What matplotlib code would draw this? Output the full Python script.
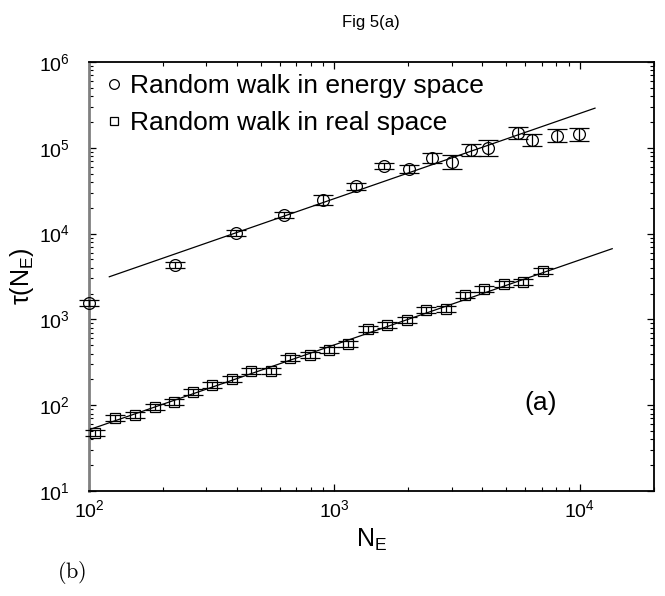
import numpy as np
import matplotlib
matplotlib.use("Agg")
import matplotlib.pyplot as plt
from matplotlib.lines import Line2D
from matplotlib.ticker import LogLocator, NullFormatter

plt.rcParams['font.family'] = ['Liberation Sans', 'DejaVu Sans']
plt.rcParams['mathtext.fontset'] = 'custom'
plt.rcParams['mathtext.rm'] = 'Liberation Sans'
plt.rcParams['mathtext.it'] = 'Liberation Sans:italic'
plt.rcParams['mathtext.bf'] = 'Liberation Sans:bold'

# ---- data: random walk in energy space (circles) ----
energy_N = [100, 224, 399, 625, 895, 1224, 1596, 2010, 2494, 3018, 3589, 4220, 5610, 6380, 8110, 9910]
energy_tau = [1535, 4275, 10190, 16630, 24660, 35500, 61800, 56500, 75900, 68200, 94800, 99100, 150600, 124000, 139000, 143000]
energy_err_dec = [0.035, 0.035, 0.035, 0.035, 0.055, 0.045, 0.035, 0.045, 0.055, 0.08, 0.07, 0.09, 0.07, 0.07, 0.08, 0.08]

# ---- data: random walk in real space (squares) ----
real_N = [106, 128, 154, 185, 221, 265, 317, 381, 456, 550, 659, 793, 950, 1139, 1368, 1641, 1973, 2364, 2838, 3400, 4077, 4890, 5860, 7050]
real_tau = [46.9, 70, 76.5, 95.5, 110, 141.6, 171, 204, 248, 250, 355, 381, 436, 521, 766, 866, 993, 1283, 1306, 1918, 2275, 2600, 2715, 3650]
real_err_dec = [0.035] * len(real_N)

# ---- power-law fit lines ----
energy_fit_range = [121, 11530]
energy_fit_a, energy_fit_N0, energy_fit_exp = 3140, 121, 0.993
real_fit_range = [100, 13550]
real_fit_a, real_fit_N0, real_fit_exp = 51.7, 100, 0.99

legend_labels = ['Random walk in energy space', 'Random walk in real space']


def asym_err(vals, dec):
    v = np.asarray(vals, float)
    d = np.asarray(dec, float)
    return np.vstack([v - v * 10 ** (-d), v * 10 ** d - v])


fig = plt.figure(figsize=(6.65, 5.96), dpi=100)
ax = fig.add_axes([89 / 665, 1 - 491 / 596, (653.7 - 89) / 665, (491 - 62) / 596])
ax.set_xscale('log')
ax.set_yscale('log')

for N, T, E, mk, ms in [(energy_N, energy_tau, energy_err_dec, 'o', 8.5),
                        (real_N, real_tau, real_err_dec, 's', 7)]:
    cont = ax.errorbar(N, T, yerr=asym_err(T, E),
                       fmt=mk, mfc='none', mec='black', ms=ms, mew=0.9, ecolor='black',
                       elinewidth=0.9, capsize=7, capthick=1.0, zorder=3)
    for art in cont.get_children():
        art.set_clip_on(False)

xe = np.logspace(np.log10(energy_fit_range[0]), np.log10(energy_fit_range[1]), 50)
ax.plot(xe, energy_fit_a * (xe / energy_fit_N0) ** energy_fit_exp, color='black', lw=0.9, zorder=2)
xr = np.logspace(np.log10(real_fit_range[0]), np.log10(real_fit_range[1]), 50)
ax.plot(xr, real_fit_a * (xr / real_fit_N0) ** real_fit_exp, color='black', lw=0.9, zorder=2)

ax.set_xlim(100, 2e4)
ax.set_ylim(10, 1e6)

ax.xaxis.set_major_locator(LogLocator(base=10, numticks=10))
ax.xaxis.set_minor_locator(LogLocator(base=10, subs=np.arange(2, 10), numticks=20))
ax.yaxis.set_major_locator(LogLocator(base=10, numticks=10))
ax.yaxis.set_minor_locator(LogLocator(base=10, subs=np.arange(2, 10), numticks=20))
ax.xaxis.set_minor_formatter(NullFormatter())
ax.yaxis.set_minor_formatter(NullFormatter())

ax.tick_params(which='both', direction='in', top=True, right=True, labelsize=14, colors='black')
ax.tick_params(which='major', length=5, width=0.9)
ax.tick_params(which='minor', length=3, width=0.8)
ax.tick_params(axis='x', pad=6)
ax.tick_params(axis='y', pad=14)

for s in ['top', 'right', 'bottom']:
    ax.spines[s].set_linewidth(1.3)
    ax.spines[s].set_color('black')
ax.spines['left'].set_linewidth(2.0)
ax.spines['left'].set_color('#808080')

ax.set_xlabel(r'N$_\mathregular{E}$', fontsize=18, labelpad=4)
ax.set_ylabel(r'τ(N$_\mathregular{E}$)', fontsize=18, labelpad=2)

handles = [Line2D([], [], ls='none', marker='o', mfc='none', mec='black', ms=7, mew=0.9),
           Line2D([], [], ls='none', marker='s', mfc='none', mec='black', ms=6, mew=0.9)]
ax.legend(handles, legend_labels, loc='upper left', frameon=False, fontsize=19,
          handletextpad=0.1, handlelength=1.0, borderaxespad=0.2, labelspacing=0.5,
          borderpad=0.25)

ax.text(0.8, 0.205, '(a)', transform=ax.transAxes, fontsize=19, ha='center', va='center')

fig.text((89 + 653.7) / 2 / 665, 1 - 22 / 596, 'Fig 5(a)', ha='center', va='center', fontsize=12)
fig.text(72 / 665, 1 - 573 / 596, r'$\mathrm{(b)}$', math_fontfamily='cm', ha='center', va='center', fontsize=16)

fig.savefig('out.png', dpi=100)
